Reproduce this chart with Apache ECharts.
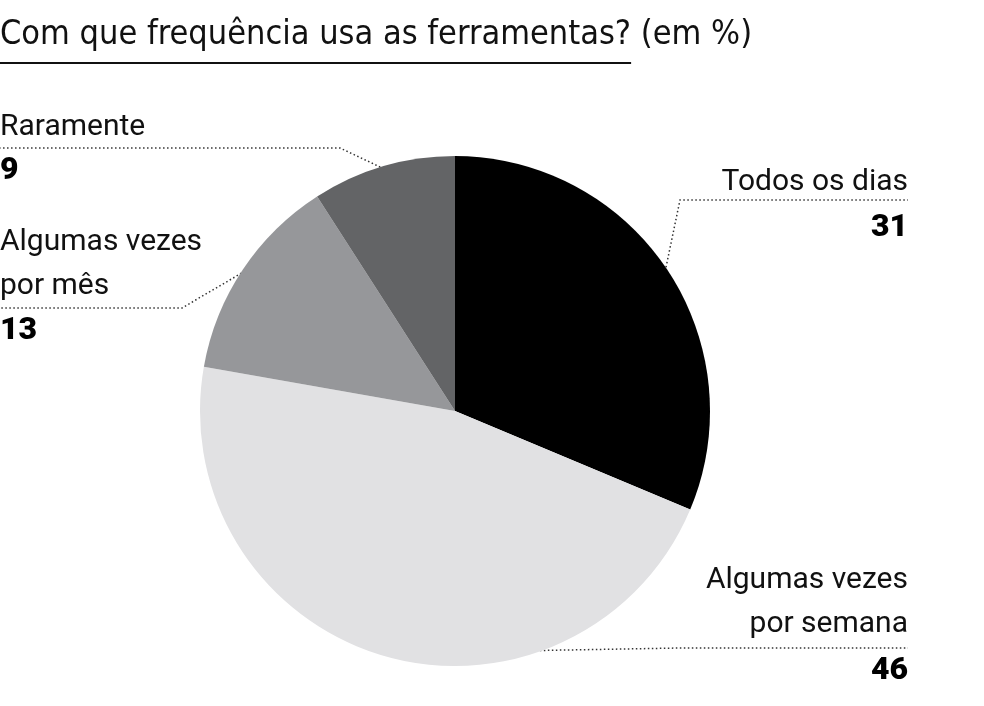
<!DOCTYPE html>
<html><head><meta charset="utf-8">
<script src="https://cdn.jsdelivr.net/npm/echarts@6/dist/echarts.min.js"></script>
<style>html,body{margin:0;background:#fff}#main{width:984px;height:706px}</style>
</head><body><div id="main"></div>
<script>
var names = ["Todos os dias", "Algumas vezes\npor semana", "Algumas vezes\npor mês", "Raramente"];
var values = [31, 46, 13, 9];
var colors = ["#000000", "#e1e1e3", "#96979a", "#636466"];

var cx = 455, cy = 411, R = 255;
// label placement: side, text top, elbow point, line end x
var layout = [
  { side: "r", textY: 160, elbow: [680, 200], endX: 908, numY: 212 },
  { side: "r", textY: 558, elbow: [680, 648], endX: 908, numY: 655 },
  { side: "l", textY: 220, elbow: [182, 308], endX: 0, numY: 315 },
  { side: "l", textY: 105, elbow: [340, 148], endX: 0, numY: 155 }
];

var chart = echarts.init(document.getElementById("main"));
var total = values.reduce(function (a, b) { return a + b; }, 0);
var graphics = [];
var titleFont = "34px 'DejaVu Sans Condensed', 'DejaVu Sans'";
var ctx = document.createElement("canvas").getContext("2d");
ctx.font = titleFont;
var w1 = ctx.measureText("Com que frequência usa as ferramentas?").width;
graphics.push({ type: "text", left: 0, top: 18, style: { text: "Com que frequência usa as ferramentas? (em %)", font: titleFont, fill: "#111" } });
graphics.push({ type: "line", shape: { x1: 0, y1: 63, x2: w1, y2: 63 }, style: { stroke: "#111", lineWidth: 2 } });

var cum = 0;
values.forEach(function (v, i) {
  var mid = (cum + v / 2) / total * 2 * Math.PI;
  cum += v;
  var ax = cx + R * Math.sin(mid) * 0.99, ay = cy - R * Math.cos(mid) * 0.99;
  var L = layout[i];
  graphics.push({ type: "polyline", shape: { points: [[ax, ay], L.elbow, [L.endX, L.elbow[1]]] },
    style: { stroke: "#333", lineWidth: 1.5, lineDash: [1.5, 2.5], fill: null } });
  var tx = L.side === "r" ? L.endX : 0;
  var align = L.side === "r" ? "right" : "left";
  graphics.push({ type: "text", x: tx, y: L.textY, style: { text: names[i], font: "30px Roboto", fill: "#111", align: align, lineHeight: 44 } });
  graphics.push({ type: "text", x: tx, y: L.numY, style: { text: String(v), font: "900 32px Roboto", fill: "#000", align: align } });
});

chart.setOption({
  animation: false,
  series: [{
    type: "pie", center: [cx, cy], radius: R, startAngle: 90, clockwise: true,
    label: { show: false }, labelLine: { show: false },
    itemStyle: { borderWidth: 0 },
    data: values.map(function (v, i) { return { value: v, name: names[i], itemStyle: { color: colors[i] } }; })
  }],
  graphic: graphics
});
</script></body></html>
